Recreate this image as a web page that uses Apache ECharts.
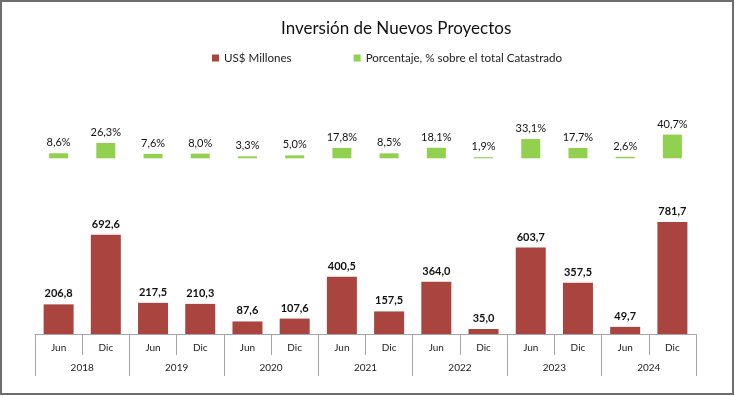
<!DOCTYPE html>
<html>
<head>
<meta charset="utf-8">
<script src="https://cdn.jsdelivr.net/npm/echarts@6/dist/echarts.min.js"></script>
<style>
  body { margin: 0; background: #fff; }
  #chart { width: 735px; height: 396px; }
</style>
</head>
<body>
<div id="chart"></div>
<script>
'use strict';

var semesters = ['Jun', 'Dic', 'Jun', 'Dic', 'Jun', 'Dic', 'Jun', 'Dic', 'Jun', 'Dic', 'Jun', 'Dic', 'Jun', 'Dic'];
var years = ['2018', '2019', '2020', '2021', '2022', '2023', '2024'];
var millones = [206.8, 692.6, 217.5, 210.3, 87.6, 107.6, 400.5, 157.5, 364.0, 35.0, 603.7, 357.5, 49.7, 781.7];
var porcentaje = [8.6, 26.3, 7.6, 8.0, 3.3, 5.0, 17.8, 8.5, 18.1, 1.9, 33.1, 17.7, 2.6, 40.7];

var font = 'Lato, "Open Sans", sans-serif';
var gridColor = '#a6a6a6';

// formato con coma decimal
function fmt(v) {
    return v.toFixed(1).replace('.', ',');
}

var chart = echarts.init(document.getElementById('chart'));

var option = {
    animation: false,
    textStyle: { fontFamily: font },
    title: {
        text: 'Inversión de Nuevos Proyectos',
        left: 276,
        top: 15,
        textStyle: { fontSize: 17, fontWeight: 'normal', color: '#111', fontFamily: font }
    },
    legend: {
        left: 207,
        top: 47,
        icon: 'rect',
        itemWidth: 7,
        itemHeight: 7,
        itemGap: 62,
        textStyle: { fontSize: 11.6, color: '#222', fontFamily: font },
        data: ['US$ Millones', 'Porcentaje, % sobre el total Catastrado']
    },
    graphic: [{
        type: 'rect',
        shape: { x: 1, y: 1, width: 732, height: 393 },
        style: { fill: 'none', stroke: '#6e6e6e', lineWidth: 2 },
        silent: true
    }],
    grid: [
        { left: 35, right: 39, top: 129.2, bottom: 396 - 158.3 },
        { left: 35, right: 39, top: 219.4, bottom: 62 }
    ],
    xAxis: [
        {
            type: 'category', gridIndex: 0, data: semesters,
            show: false
        },
        {
            type: 'category', gridIndex: 1, data: semesters,
            axisLine: { show: true, lineStyle: { color: gridColor } },
            axisTick: { show: true, interval: 0, length: 21, lineStyle: { color: gridColor } },
            axisLabel: { interval: 0, margin: 9, fontSize: 10, color: '#222', fontFamily: font }
        },
        {
            type: 'category', gridIndex: 1, data: years, position: 'bottom',
            axisLine: { show: false },
            axisTick: { show: true, interval: 0, length: 42, lineStyle: { color: gridColor } },
            axisLabel: { interval: 0, margin: 29, fontSize: 10, color: '#222', fontFamily: font }
        }
    ],
    yAxis: [
        { type: 'value', gridIndex: 0, min: 0, max: 50, show: false },
        { type: 'value', gridIndex: 1, min: 0, max: 800, show: false }
    ],
    series: [
        {
            name: 'US$ Millones',
            type: 'bar',
            xAxisIndex: 1,
            yAxisIndex: 1,
            barWidth: 30,
            data: millones,
            itemStyle: { color: '#a9443f' },
            label: {
                show: true, position: 'top', distance: 5,
                fontSize: 11, fontWeight: 'bold', color: '#111', fontFamily: font,
                formatter: function (p) { return fmt(p.value); }
            }
        },
        {
            name: 'Porcentaje, % sobre el total Catastrado',
            type: 'bar',
            xAxisIndex: 0,
            yAxisIndex: 0,
            barWidth: 19,
            data: porcentaje,
            itemStyle: { color: '#92d050' },
            label: {
                show: true, position: 'top', distance: 5,
                fontSize: 11, color: '#111', fontFamily: font,
                formatter: function (p) { return fmt(p.value) + '%'; }
            }
        }
    ]
};

chart.setOption(option);
</script>
</body>
</html>
